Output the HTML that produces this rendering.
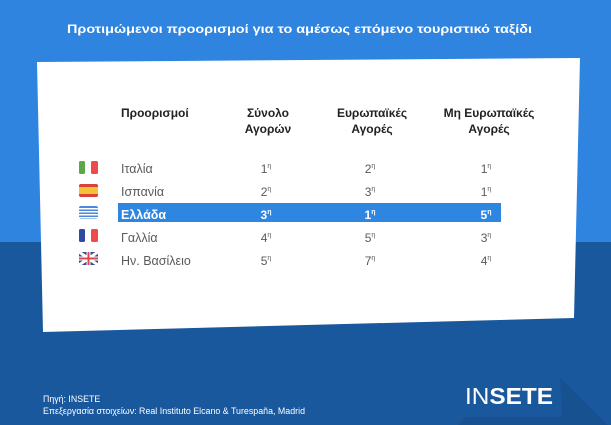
<!DOCTYPE html>
<html><head><meta charset="utf-8"><style>
body{margin:0;width:611px;height:425px;overflow:hidden;font-family:"Liberation Sans","DejaVu Sans",sans-serif;}
svg{display:block}
</style></head><body>
<svg width="611" height="425" viewBox="0 0 611 425" xmlns="http://www.w3.org/2000/svg" font-family="Liberation Sans, DejaVu Sans, sans-serif">
<rect x="0" y="0" width="611" height="243" fill="#2f84e0"/>
<rect x="0" y="242" width="611" height="183" fill="#1a589e"/>
<polygon points="560,377 611,428 455,428 466,417 562,417" fill="#17518f"/>
<text x="67" y="33" fill="#fff" font-size="12" font-weight="bold" textLength="465" lengthAdjust="spacingAndGlyphs">Προτιμώμενοι προορισμοί για το αμέσως επόμενο τουριστικό ταξίδι</text>
<polygon points="37,62 580,58 574,318 43,332" fill="#fff"/>
<g font-size="12" font-weight="bold" fill="#222" text-anchor="middle">
<text x="121" y="117" text-anchor="start">Προορισμοί</text>
<text x="268" y="117">Σύνολο</text><text x="268" y="133">Αγορών</text>
<text x="372" y="117">Ευρωπαϊκές</text><text x="372" y="133">Αγορές</text>
<text x="489" y="117">Μη Ευρωπαϊκές</text><text x="489" y="133">Αγορές</text>
</g>
<rect x="118" y="203" width="383" height="19" fill="#2f86e0"/>
<g>
<rect x="79" y="161" width="6" height="13" rx="1.5" fill="#5aa84a"/><rect x="85" y="161" width="7" height="13" fill="#fff"/><rect x="91" y="161" width="7" height="13" rx="1.5" fill="#ef4a4a"/>
<rect x="79" y="184" width="19" height="13" rx="2" fill="#d9413c"/><rect x="79" y="187" width="19" height="7" fill="#f3c335"/>
<rect x="79" y="206" width="19" height="13" rx="2" fill="#4a8ad8"/><rect x="79" y="208" width="19" height="1.5" fill="#fff"/><rect x="79" y="211" width="19" height="1.5" fill="#fff"/><rect x="79" y="214" width="19" height="1.5" fill="#fff"/><rect x="79" y="217" width="19" height="1.5" fill="#fff"/>
<rect x="79" y="229" width="6" height="13" rx="1.5" fill="#2e4ba0"/><rect x="85" y="229" width="7" height="13" fill="#fff"/><rect x="91" y="229" width="7" height="13" rx="1.5" fill="#ef4a4a"/>
<rect x="79" y="252" width="19" height="13" rx="2" fill="#3a4d8f"/><path d="M79,252L98,265M98,252L79,265" stroke="#fff" stroke-width="3"/><path d="M88.5,252V265M79,258.5H98" stroke="#fff" stroke-width="4"/><path d="M88.5,252V265M79,258.5H98" stroke="#e2444c" stroke-width="2"/>
</g>
<g font-size="12.5" fill="#5a5a5a">
<text x="121" y="173">Ιταλία</text>
<text x="121" y="196">Ισπανία</text>
<text x="121" y="219" fill="#fff" font-weight="bold">Ελλάδα</text>
<text x="121" y="242">Γαλλία</text>
<text x="121" y="265">Ην. Βασίλειο</text>
</g>
<g font-size="12" fill="#5a5a5a" text-anchor="middle">
<text x="266" y="173">1<tspan font-size="7" dy="-5">η</tspan></text><text x="370" y="173">2<tspan font-size="7" dy="-5">η</tspan></text><text x="486" y="173">1<tspan font-size="7" dy="-5">η</tspan></text>
<text x="266" y="196">2<tspan font-size="7" dy="-5">η</tspan></text><text x="370" y="196">3<tspan font-size="7" dy="-5">η</tspan></text><text x="486" y="196">1<tspan font-size="7" dy="-5">η</tspan></text>
<g fill="#fff" font-weight="bold"><text x="266" y="219">3<tspan font-size="7" dy="-5">η</tspan></text><text x="370" y="219">1<tspan font-size="7" dy="-5">η</tspan></text><text x="486" y="219">5<tspan font-size="7" dy="-5">η</tspan></text></g>
<text x="266" y="242">4<tspan font-size="7" dy="-5">η</tspan></text><text x="370" y="242">5<tspan font-size="7" dy="-5">η</tspan></text><text x="486" y="242">3<tspan font-size="7" dy="-5">η</tspan></text>
<text x="266" y="265">5<tspan font-size="7" dy="-5">η</tspan></text><text x="370" y="265">7<tspan font-size="7" dy="-5">η</tspan></text><text x="486" y="265">4<tspan font-size="7" dy="-5">η</tspan></text>
</g>
<text x="465" y="404" fill="#fff" font-size="23" textLength="88" lengthAdjust="spacingAndGlyphs">IN<tspan font-weight="bold">SETE</tspan></text>
<g font-size="8.8" fill="#fff"><text x="43" y="402">Πηγή: INSETE</text><text x="43" y="414" textLength="262" lengthAdjust="spacingAndGlyphs">Επεξεργασία στοιχείων: Real Instituto Elcano &amp; Turespaña, Madrid</text></g>
</svg>
</body></html>
